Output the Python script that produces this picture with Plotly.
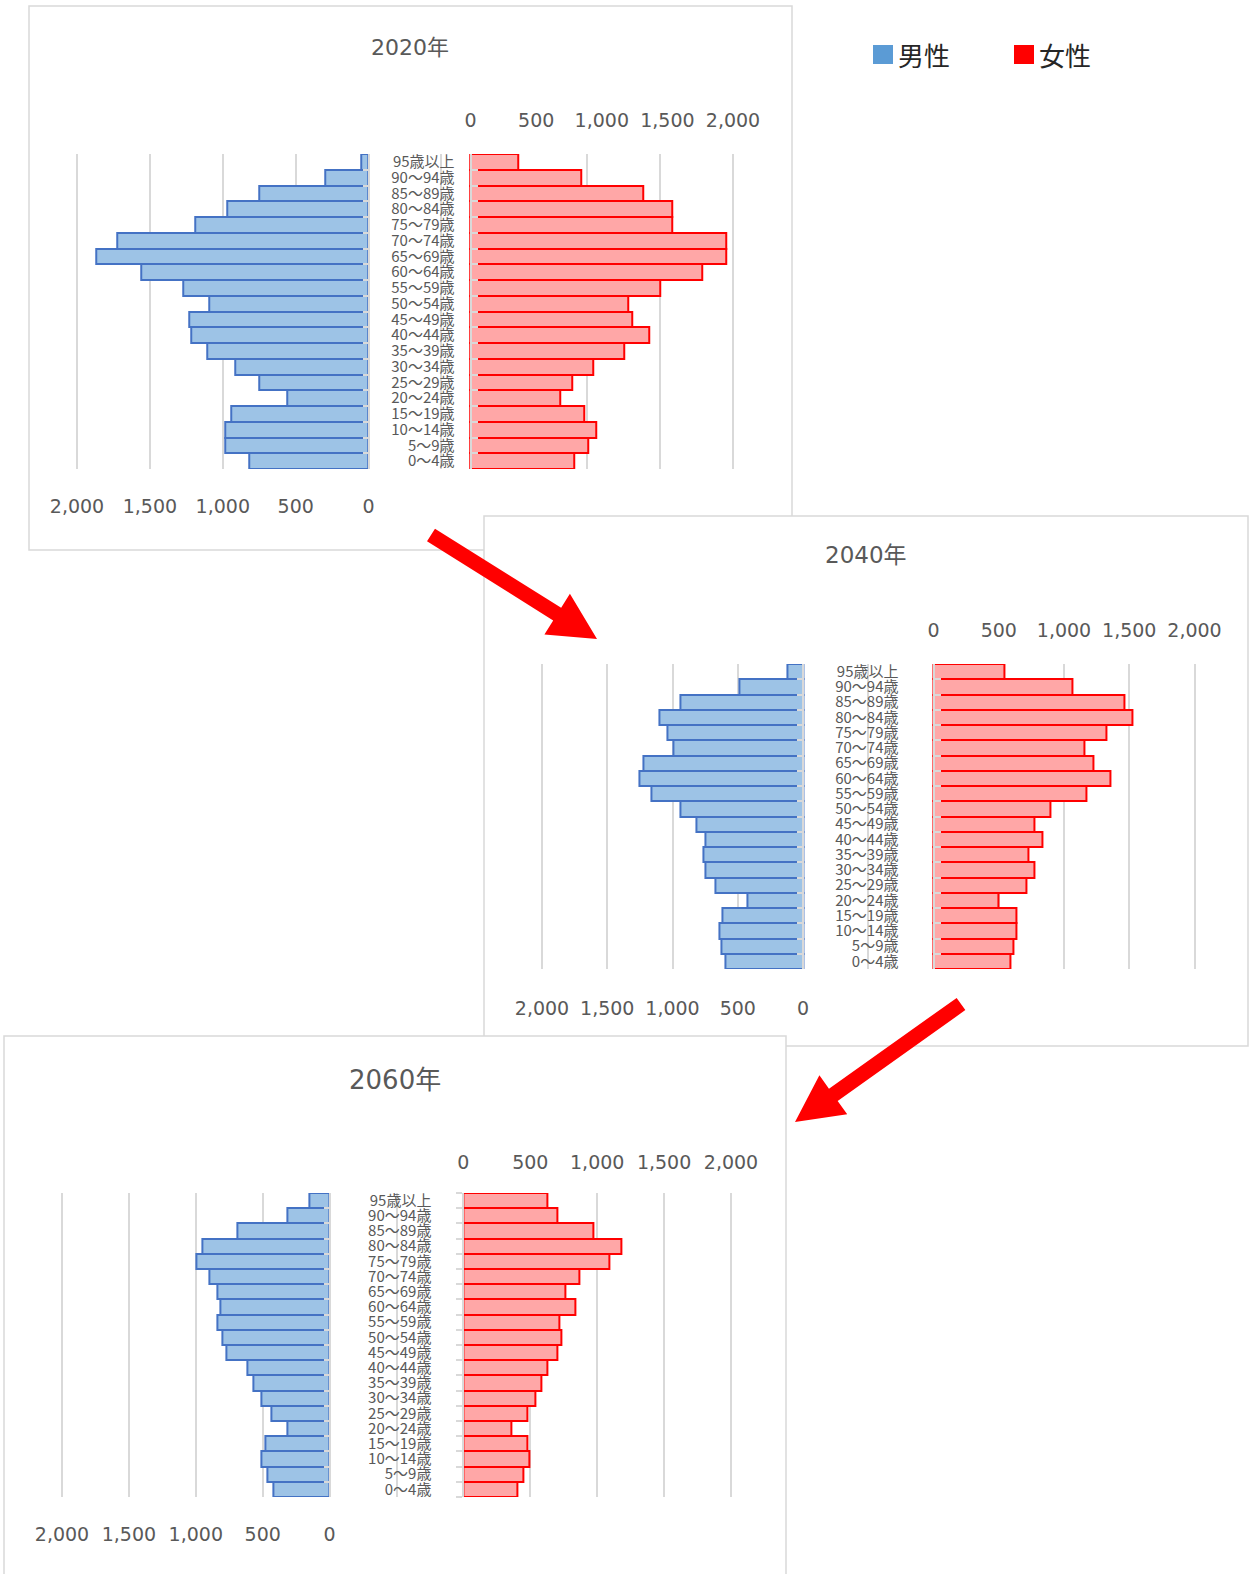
import math
import plotly.graph_objects as go

W, H = 1255, 1574

# ---------------- data ----------------
ages = ["0～4歳", "5～9歳", "10～14歳", "15～19歳", "20～24歳", "25～29歳", "30～34歳",
        "35～39歳", "40～44歳", "45～49歳", "50～54歳", "55～59歳", "60～64歳", "65～69歳",
        "70～74歳", "75～79歳", "80～84歳", "85～89歳", "90～94歳", "95歳以上"]

years = ["2020年", "2040年", "2060年"]

male_2020 = [818, 983, 983, 942, 557, 750, 915, 1107, 1217, 1231, 1094, 1272, 1561, 1866, 1726, 1190, 968, 750, 296, 48]
female_2020 = [793, 899, 960, 869, 686, 777, 932, 1174, 1359, 1235, 1204, 1448, 1768, 1949, 1949, 1537, 1537, 1313, 841, 366]

male_2040 = [592, 626, 639, 621, 424, 669, 746, 761, 746, 820, 940, 1160, 1251, 1221, 991, 1037, 1098, 942, 485, 120]
female_2040 = [588, 615, 634, 634, 496, 713, 774, 726, 835, 774, 897, 1170, 1354, 1229, 1155, 1326, 1522, 1461, 1065, 544]

male_2060 = [420, 465, 510, 480, 315, 435, 510, 570, 615, 768, 798, 840, 815, 840, 900, 993, 948, 692, 315, 150]
female_2060 = [405, 450, 495, 480, 358, 480, 540, 585, 629, 704, 734, 716, 838, 761, 868, 1092, 1182, 973, 701, 627]

male_series = [male_2020, male_2040, male_2060]
female_series = [female_2020, female_2040, female_2060]

tick_values = [0, 500, 1000, 1500, 2000]
tick_labels = ["0", "500", "1,000", "1,500", "2,000"]

legend_labels = ["男性", "女性"]

# ---------------- style / layout ----------------
MALE_FILL = "#9DC3E6"
MALE_LINE = "#4472C4"
MALE_LEGEND = "#5B9BD5"
FEMALE_FILL = "#FFA7A7"
FEMALE_LINE = "#FF0000"
GRID = "#D9D9D9"
TXT = "#595959"
NUM_FONT = "DejaVu Sans, Verdana, sans-serif"
JP_FONT = "Noto Sans CJK JP, sans-serif"

# pixel geometry of each chart (plot area) and axis ranges
charts = [
    dict(box=(29, 6, 792, 550), title_xy=(410, 47), title_size=22,
         xl=77, xr=733, yt=154, yb=469, m_range=(-2500, 2000), f_range=(-3000, 2000),
         f_ticks="inside", lab_gap=12, bot_off=24, top_off=22),
    dict(box=(484, 516, 1248, 1046), title_xy=(866, 555), title_size=23,
         xl=542, xr=1194.5, yt=664, yb=969, m_range=(-3000, 2000), f_range=(-3000, 2000),
         f_ticks="inside", lab_gap=31, bot_off=26, top_off=22),
    dict(box=(4, 1036, 786, 1590), title_xy=(395, 1080), title_size=26,
         xl=62, xr=731, yt=1193, yb=1497, m_range=(-3000, 2000), f_range=(-3000, 2000),
         f_ticks="outside", lab_gap=28, bot_off=24, top_off=19),
]


def fx(px):
    return px / W


def fy(py):
    return 1 - py / H


fig = go.Figure()
shapes = []
annotations = []
layout = {}

for i, cfg in enumerate(charts):
    n = 2 * i + 1
    xm = "x" if n == 1 else f"x{n}"
    xf = f"x{n + 1}"
    ym = "y" if n == 1 else f"y{n}"
    yf = f"y{n + 1}"
    xm_key = "xaxis" if n == 1 else f"xaxis{n}"
    ym_key = "yaxis" if n == 1 else f"yaxis{n}"
    xf_key = f"xaxis{n + 1}"
    yf_key = f"yaxis{n + 1}"

    fig.add_trace(go.Bar(
        y=ages, x=male_series[i], orientation="h", xaxis=xm, yaxis=ym,
        name=legend_labels[0], showlegend=False,
        marker=dict(color=MALE_FILL, line=dict(color=MALE_LINE, width=2)),
    ))
    fig.add_trace(go.Bar(
        y=ages, x=female_series[i], orientation="h", xaxis=xf, yaxis=yf,
        name=legend_labels[1], showlegend=False,
        marker=dict(color=FEMALE_FILL, line=dict(color=FEMALE_LINE, width=2)),
    ))

    lo_m, hi_m = cfg["m_range"]
    lo_f, hi_f = cfg["f_range"]
    xl, xr = cfg["xl"], cfg["xr"]
    s_m = (xr - xl) / (hi_m - lo_m)
    s_f = (xr - xl) / (hi_f - lo_f)
    pad = 12  # units of male axis
    pad_px = pad * s_m
    pad_f = pad_px / s_f
    dom = [fx(xl - pad_px), fx(xr + pad_px)]
    ydom = [fy(cfg["yb"]), fy(cfg["yt"])]

    male_zero_px = xl + (hi_m - 0) * s_m
    female_zero_px = xl + (0 - lo_f) * s_f

    m_vals = list(range(lo_m, hi_m + 1, 500))
    m_text = [tick_labels[tick_values.index(v)] if v in tick_values else "" for v in m_vals]

    layout[xm_key] = dict(
        domain=dom, range=[hi_m + pad, lo_m - pad], anchor=ym, side="bottom",
        tickmode="array", tickvals=m_vals, ticktext=m_text, tickangle=0,
        showgrid=True, gridcolor=GRID, gridwidth=2, zeroline=False, showline=False,
        ticks="", tickfont=dict(family=NUM_FONT, size=19, color=TXT),
        ticklabelstandoff=cfg["bot_off"], fixedrange=True, automargin=False,
    )
    layout[xf_key] = dict(
        overlaying=xm, range=[lo_f - pad_f, hi_f + pad_f], anchor=ym, side="top",
        tickmode="array", tickvals=tick_values, ticktext=tick_labels, tickangle=0,
        showgrid=False, zeroline=False, showline=False, ticks="",
        tickfont=dict(family=NUM_FONT, size=19, color=TXT),
        ticklabelstandoff=cfg["top_off"], fixedrange=True, automargin=False,
    )
    layout[ym_key] = dict(
        domain=ydom, type="category", categoryorder="array", categoryarray=ages,
        range=[-0.5, len(ages) - 0.5], anchor="free", position=fx(male_zero_px), side="right",
        showline=True, linecolor=GRID, linewidth=2, ticks="inside", tickson="boundaries",
        ticklen=5, tickcolor=GRID, tickwidth=1.5, showticklabels=False, showgrid=False,
        zeroline=False, tickmode="linear", tick0=0, dtick=1, fixedrange=True, automargin=False,
    )
    layout[yf_key] = dict(
        overlaying=ym, type="category", categoryorder="array", categoryarray=ages,
        range=[-0.5, len(ages) - 0.5], anchor="free", position=fx(female_zero_px), side="left",
        showline=True, linecolor=GRID, linewidth=2, ticks=cfg["f_ticks"], tickson="boundaries",
        ticklen=6, tickcolor=GRID, tickwidth=1.5, showgrid=False, zeroline=False,
        tickmode="linear", tick0=0, dtick=1,
        tickfont=dict(family=JP_FONT, size=15, color=TXT),
        ticklabelstandoff=cfg["lab_gap"], fixedrange=True, automargin=False,
    )

    # chart frame
    bx0, by0, bx1, by1 = cfg["box"]
    shapes.append(dict(type="rect", xref="paper", yref="paper",
                       x0=fx(bx0), x1=fx(bx1), y0=fy(by1), y1=fy(by0),
                       fillcolor="white", line=dict(color=GRID, width=1.5), layer="below"))
    # chart title
    tx, ty = cfg["title_xy"]
    annotations.append(dict(text=years[i], x=fx(tx), y=fy(ty), xref="paper", yref="paper",
                            showarrow=False, xanchor="center", yanchor="middle",
                            font=dict(family=NUM_FONT + ", Noto Sans CJK JP", size=cfg["title_size"], color=TXT)))

# legend (custom, outside the frames)
legend_items = [(873, MALE_LEGEND, legend_labels[0]), (1014, FEMALE_LINE, legend_labels[1])]
for lx, col, lab in legend_items:
    shapes.append(dict(type="rect", xref="paper", yref="paper",
                       x0=fx(lx), x1=fx(lx + 20), y0=fy(64), y1=fy(45),
                       fillcolor=col, line=dict(width=0), layer="above"))
    annotations.append(dict(text=lab, x=fx(lx + 23), y=fy(55), xref="paper", yref="paper",
                            showarrow=False, xanchor="left", yanchor="middle",
                            font=dict(family=JP_FONT, size=26, color="#262626")))


# red arrows between charts
def arrow_path(tail, tip, shaft=15, head_len=47, head_w=48):
    dx, dy = tip[0] - tail[0], tip[1] - tail[1]
    L = math.hypot(dx, dy)
    ux, uy = dx / L, dy / L
    nx, ny = -uy, ux
    bx, by = tip[0] - ux * head_len, tip[1] - uy * head_len
    pts = [
        (tail[0] + nx * shaft / 2, tail[1] + ny * shaft / 2),
        (bx + nx * shaft / 2, by + ny * shaft / 2),
        (bx + nx * head_w / 2, by + ny * head_w / 2),
        tip,
        (bx - nx * head_w / 2, by - ny * head_w / 2),
        (bx - nx * shaft / 2, by - ny * shaft / 2),
        (tail[0] - nx * shaft / 2, tail[1] - ny * shaft / 2),
    ]
    return "M " + " L ".join(f"{fx(x):.5f},{fy(y):.5f}" for x, y in pts) + " Z"


for tail, tip in [((431, 535), (597, 639)), ((961, 1004), (795, 1122))]:
    shapes.append(dict(type="path", xref="paper", yref="paper", path=arrow_path(tail, tip),
                       fillcolor="#FF0000", line=dict(width=0), layer="above"))

fig.update_layout(
    width=W, height=H, margin=dict(l=0, r=0, t=0, b=0, autoexpand=False),
    paper_bgcolor="white", plot_bgcolor="rgba(0,0,0,0)",
    showlegend=False, bargap=0, barmode="overlay",
    shapes=shapes, annotations=annotations, **layout,
)

# remove the default page margin so the figure sits at the window's top-left corner
fig.write_html(
    "out.html",
    config={"displayModeBar": False},
    post_script="document.body.style.margin='0';document.body.style.overflow='hidden';",
)
